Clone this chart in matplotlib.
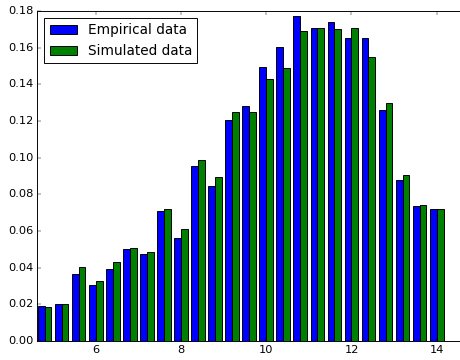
import numpy as np
import matplotlib
matplotlib.use("Agg")
import matplotlib.pyplot as plt

plt.style.use('classic')

# histogram densities, one value per bin (bins 0.4 wide starting at 4.6)
bin_start = 4.6
bin_width = 0.4
empirical = [0.0191, 0.0200, 0.0365, 0.0305, 0.0394, 0.0503, 0.0473, 0.0709,
             0.0562, 0.0956, 0.0847, 0.1204, 0.1282, 0.1496, 0.1604, 0.1774,
             0.1706, 0.1742, 0.1653, 0.1653, 0.1260, 0.0878, 0.0738, 0.0720]
simulated = [0.0184, 0.0203, 0.0402, 0.0327, 0.0429, 0.0509, 0.0487, 0.0718,
             0.0611, 0.0989, 0.0893, 0.1247, 0.1251, 0.1429, 0.1489, 0.1693,
             0.1708, 0.1700, 0.1707, 0.1551, 0.1300, 0.0905, 0.0742, 0.0720]
labels = ['Empirical data', 'Simulated data']

dpi = 68
fig = plt.figure(figsize=(460 / dpi, 360 / dpi), dpi=dpi)
ax = fig.add_axes([0.0811, 0.05278, 0.9266, 0.91667])

edges = bin_start + bin_width * np.arange(len(empirical))
w = 0.8 * bin_width / 2
ax.bar(edges + 0.1 * bin_width, empirical, width=w, align='edge',
       color='b', label=labels[0])
ax.bar(edges + 0.1 * bin_width + w, simulated, width=w, align='edge',
       color='g', label=labels[1])

ax.set_xlim(4.63, 14.63)
ax.set_ylim(0, 0.18)
ax.set_xticks([6, 8, 10, 12, 14])
ax.legend(loc='upper left')

plt.savefig('out.png', dpi=dpi)
